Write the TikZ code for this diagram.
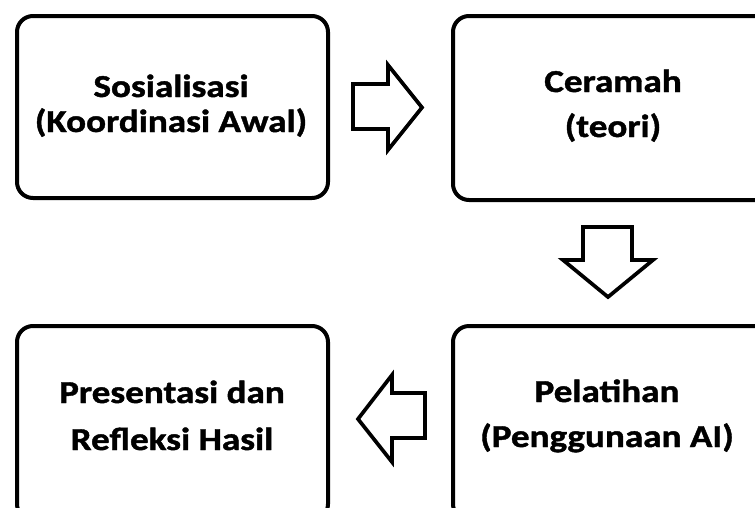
\documentclass[tikz,border=0pt]{standalone}
\usepackage{fontspec}
\setmainfont{Carlito}[FakeStretch=1.16, BoldFeatures={FakeBold=1.3}]
\begin{document}
\begin{tikzpicture}[x=1pt,y=-1pt,
  box/.style={draw=black, line width=4pt, rounded corners=16pt, fill=white, inner sep=0pt},
  lbl/.style={anchor=base, inner sep=0pt, font=\fontsize{32}{35}\selectfont\bfseries},
  blockarrow/.style={draw=black, line width=3.7pt, line join=miter, fill=white}]
\useasboundingbox (0,0) rectangle (755,507);
\clip (0,0) rectangle (755,507);
\fill[white] (0,0) rectangle (755,507);
% boxes
\node[box, minimum width=311pt, minimum height=182pt] (b1) at (172.5,107) {};
\node[box, minimum width=319pt, minimum height=184pt] (b2) at (612.5,108) {};
\node[box, minimum width=311pt, minimum height=194pt] (b4) at (172.5,423) {};
\node[box, minimum width=319pt, minimum height=194pt] (b3) at (612.5,423) {};
% texts
\node[lbl] (t1a) at (171,97) {Sosialisasi};
\node[lbl] (t1b) at (171,132) {(Koordinasi Awal)};
\node[lbl] (t2a) at (613,92) {Ceramah};
\node[lbl] (t2b) at (613,137) {(teori)};
\node[lbl] (t3a) at (607,402) {Pelatihan};
\node[lbl] (t3b) at (607,447) {(Penggunaan AI)};
\node[lbl] (t4a) at (172,403) {Presentasi dan};
\node[lbl] (t4b) at (172,450) {Refleksi Hasil};
% block arrows
\draw[blockarrow] (353,84) -- (388,84) -- (388,65) -- (422,107.5) -- (388,150) -- (388,129) -- (353,129) -- cycle;
\draw[blockarrow] (583,227) -- (632,227) -- (632,260) -- (653,260) -- (608,297) -- (563,260) -- (583,260) -- cycle;
\draw[blockarrow] (425,393) -- (392,393) -- (392,375) -- (358,419) -- (392,462) -- (392,438) -- (425,438) -- cycle;
\end{tikzpicture}
\end{document}
